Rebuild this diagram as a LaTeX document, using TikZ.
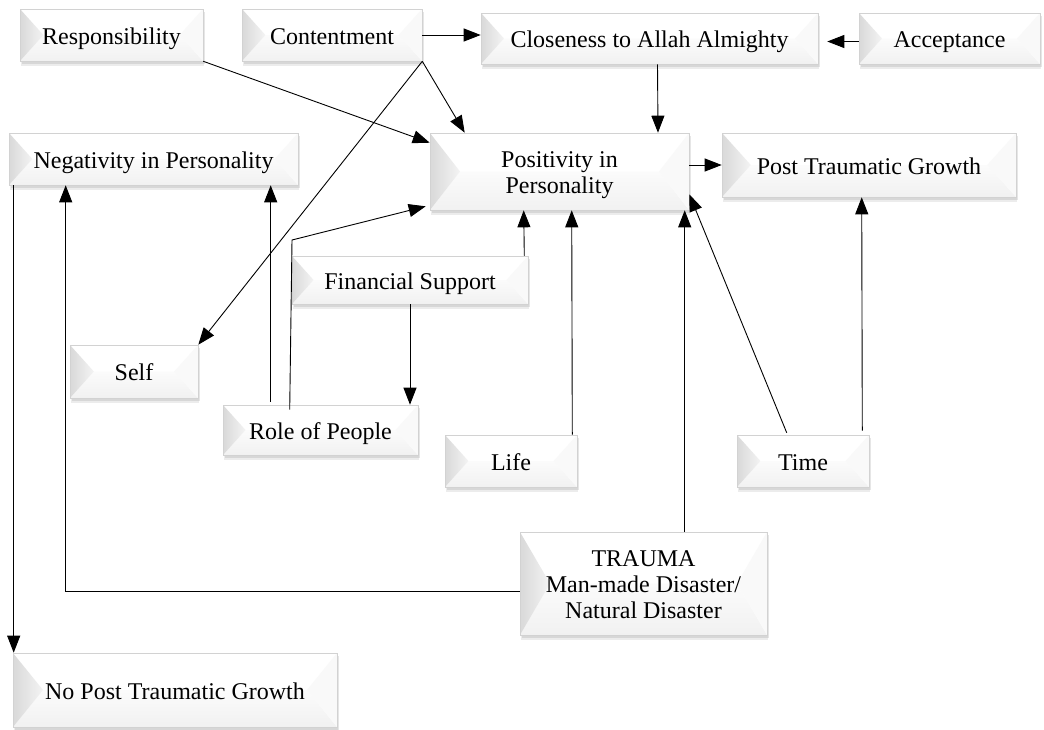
\documentclass[tikz,border=0pt]{standalone}
\usepackage{fontspec}
\setmainfont{Liberation Serif}
\usetikzlibrary{arrows.meta,shadows,calc}
\newcommand{\lowr}[1]{\raisebox{-4pt}[\height][\depth]{\begin{tabular}{@{}c@{}}#1\end{tabular}}}
\begin{document}
\begin{tikzpicture}[x=1pt,y=-1pt,
  box/.style={draw=gray!35, line width=0.6pt, fill=white,
    drop shadow={opacity=0.15, shadow xshift=1pt, shadow yshift=-4.5pt},
    drop shadow={opacity=0.2, shadow xshift=1.5pt, shadow yshift=-2.5pt},
    font=\fontsize{24}{26}\selectfont, inner sep=0pt,
    path picture={
      \path let \p1=(path picture bounding box.north west),
                \p2=(path picture bounding box.south west),
                \p3=(path picture bounding box.north east),
                \p4=(path picture bounding box.south east),
                \n1={min(0.45*(\y1-\y2),30pt)} in
          (\p1) coordinate (bvNW) (\p2) coordinate (bvSW)
          (\p3) coordinate (bvNE) (\p4) coordinate (bvSE)
          ($(\p1)!0.5!(\p2)+(\n1,0)$) coordinate (bvL)
          ($(\p3)!0.5!(\p4)-(\n1,0)$) coordinate (bvR);
      \shade[top color=gray!3, bottom color=gray!11] (bvSW) -- (bvL) -- (bvR) -- (bvSE) -- cycle;
      \shade[left color=gray!30, right color=gray!9] (bvNW) -- (bvL) -- (bvSW) -- cycle;
      \fill[gray!5] (bvNE) -- (bvR) -- (bvSE) -- cycle;
    }},
  arr/.style={draw=black, line width=0.9pt, -{Triangle[length=17pt,width=13pt]}}]
\useasboundingbox (0,0) rectangle (1044,729);

\node[box, minimum width=183, minimum height=52] (resp) at (111.5,35) {\lowr{Responsibility}};
\node[box, minimum width=180, minimum height=52] (cont) at (332,35) {\lowr{Contentment}};
\node[box, minimum width=337, minimum height=51] (close) at (649.5,38.5) {\lowr{Closeness to Allah Almighty}};
\node[box, minimum width=181, minimum height=51] (accept) at (949.5,38.5) {\lowr{Acceptance}};
\node[box, minimum width=289, minimum height=52] (neg) at (153.5,159) {\lowr{Negativity in Personality}};
\node[box, minimum width=259, minimum height=77] (pos) at (559.5,171.5) {\lowr{Positivity in\\Personality}};
\node[box, minimum width=294, minimum height=64] (ptg) at (869,165) {\lowr{Post Traumatic Growth}};
\node[box, minimum width=236, minimum height=48] (fin) at (410,280) {\lowr{Financial Support}};
\node[box, minimum width=128, minimum height=53] (self) at (134,371.5) {\lowr{Self}};
\node[box, minimum width=195, minimum height=50] (role) at (320.5,430) {\lowr{Role of People}};
\node[box, minimum width=132, minimum height=52] (life) at (511,461) {\lowr{Life}};
\node[box, minimum width=132, minimum height=52] (time) at (803,461) {\lowr{Time}};
\node[box, minimum width=247, minimum height=103] (trauma) at (643.5,583.5) {\lowr{TRAUMA\\Man-made Disaster/\\Natural Disaster}};
\node[box, minimum width=324, minimum height=74] (noptg) at (175,690) {\lowr{No Post Traumatic Growth}};

% connectors
\draw[arr] (cont.east) -- (cont.east -| close.west);
\draw[arr, shorten >=9pt] ($(accept.west)+(0,3)$) -- ($(close.east)+(0,3)$);
\draw[arr] ($(close.south)+(8,0)$) -- ($(pos.north)+(98.5,0)$);
\draw[arr] (cont.south east) -- ($(pos.north west)+(35,0)$);
\draw[arr] (cont.south east) -- (self.north east);
\draw[arr] (resp.south east) -- ($(pos.north west)+(0,10)$);
\draw[arr] (ptg.west -| pos.east) -- (ptg.west);
\draw[arr] ($(neg.south west)+(5,0)$) -- ($(noptg.north west)+(1,0)$);
\draw[arr] (trauma.west |- 0,591) -| ($(neg.south west)+(57,0)$);
\draw[arr] ($(role.north west)+(48,-3)$) -- ($(neg.south west)+(262,0)$);
\coordinate (bend) at (292,240);
\draw[arr] ($(role.north west)+(67,5)$) -- (bend) -- ($(pos.south west)+(-4,-4)$);
\draw[arr] ($(fin.north east)+(-4,0)$) -- ($(pos.south west)+(94,0)$);
\draw[arr] (fin.south) -- (fin.south |- role.north);
\draw[arr] ($(life.north east)+(-5,0)$) -- ($(pos.south west)+(142,0)$);
\draw[arr] ($(trauma.north west)+(165,0)$) -- ($(pos.south west)+(255,0)$);
\draw[arr] ($(time.north west)+(50,-2)$) -- ($(pos.south east)+(0,-16)$);
\draw[arr] ($(time.north east)+(-7,-4)$) -- ($(ptg.south west)+(140,0)$);
\end{tikzpicture}
\end{document}
